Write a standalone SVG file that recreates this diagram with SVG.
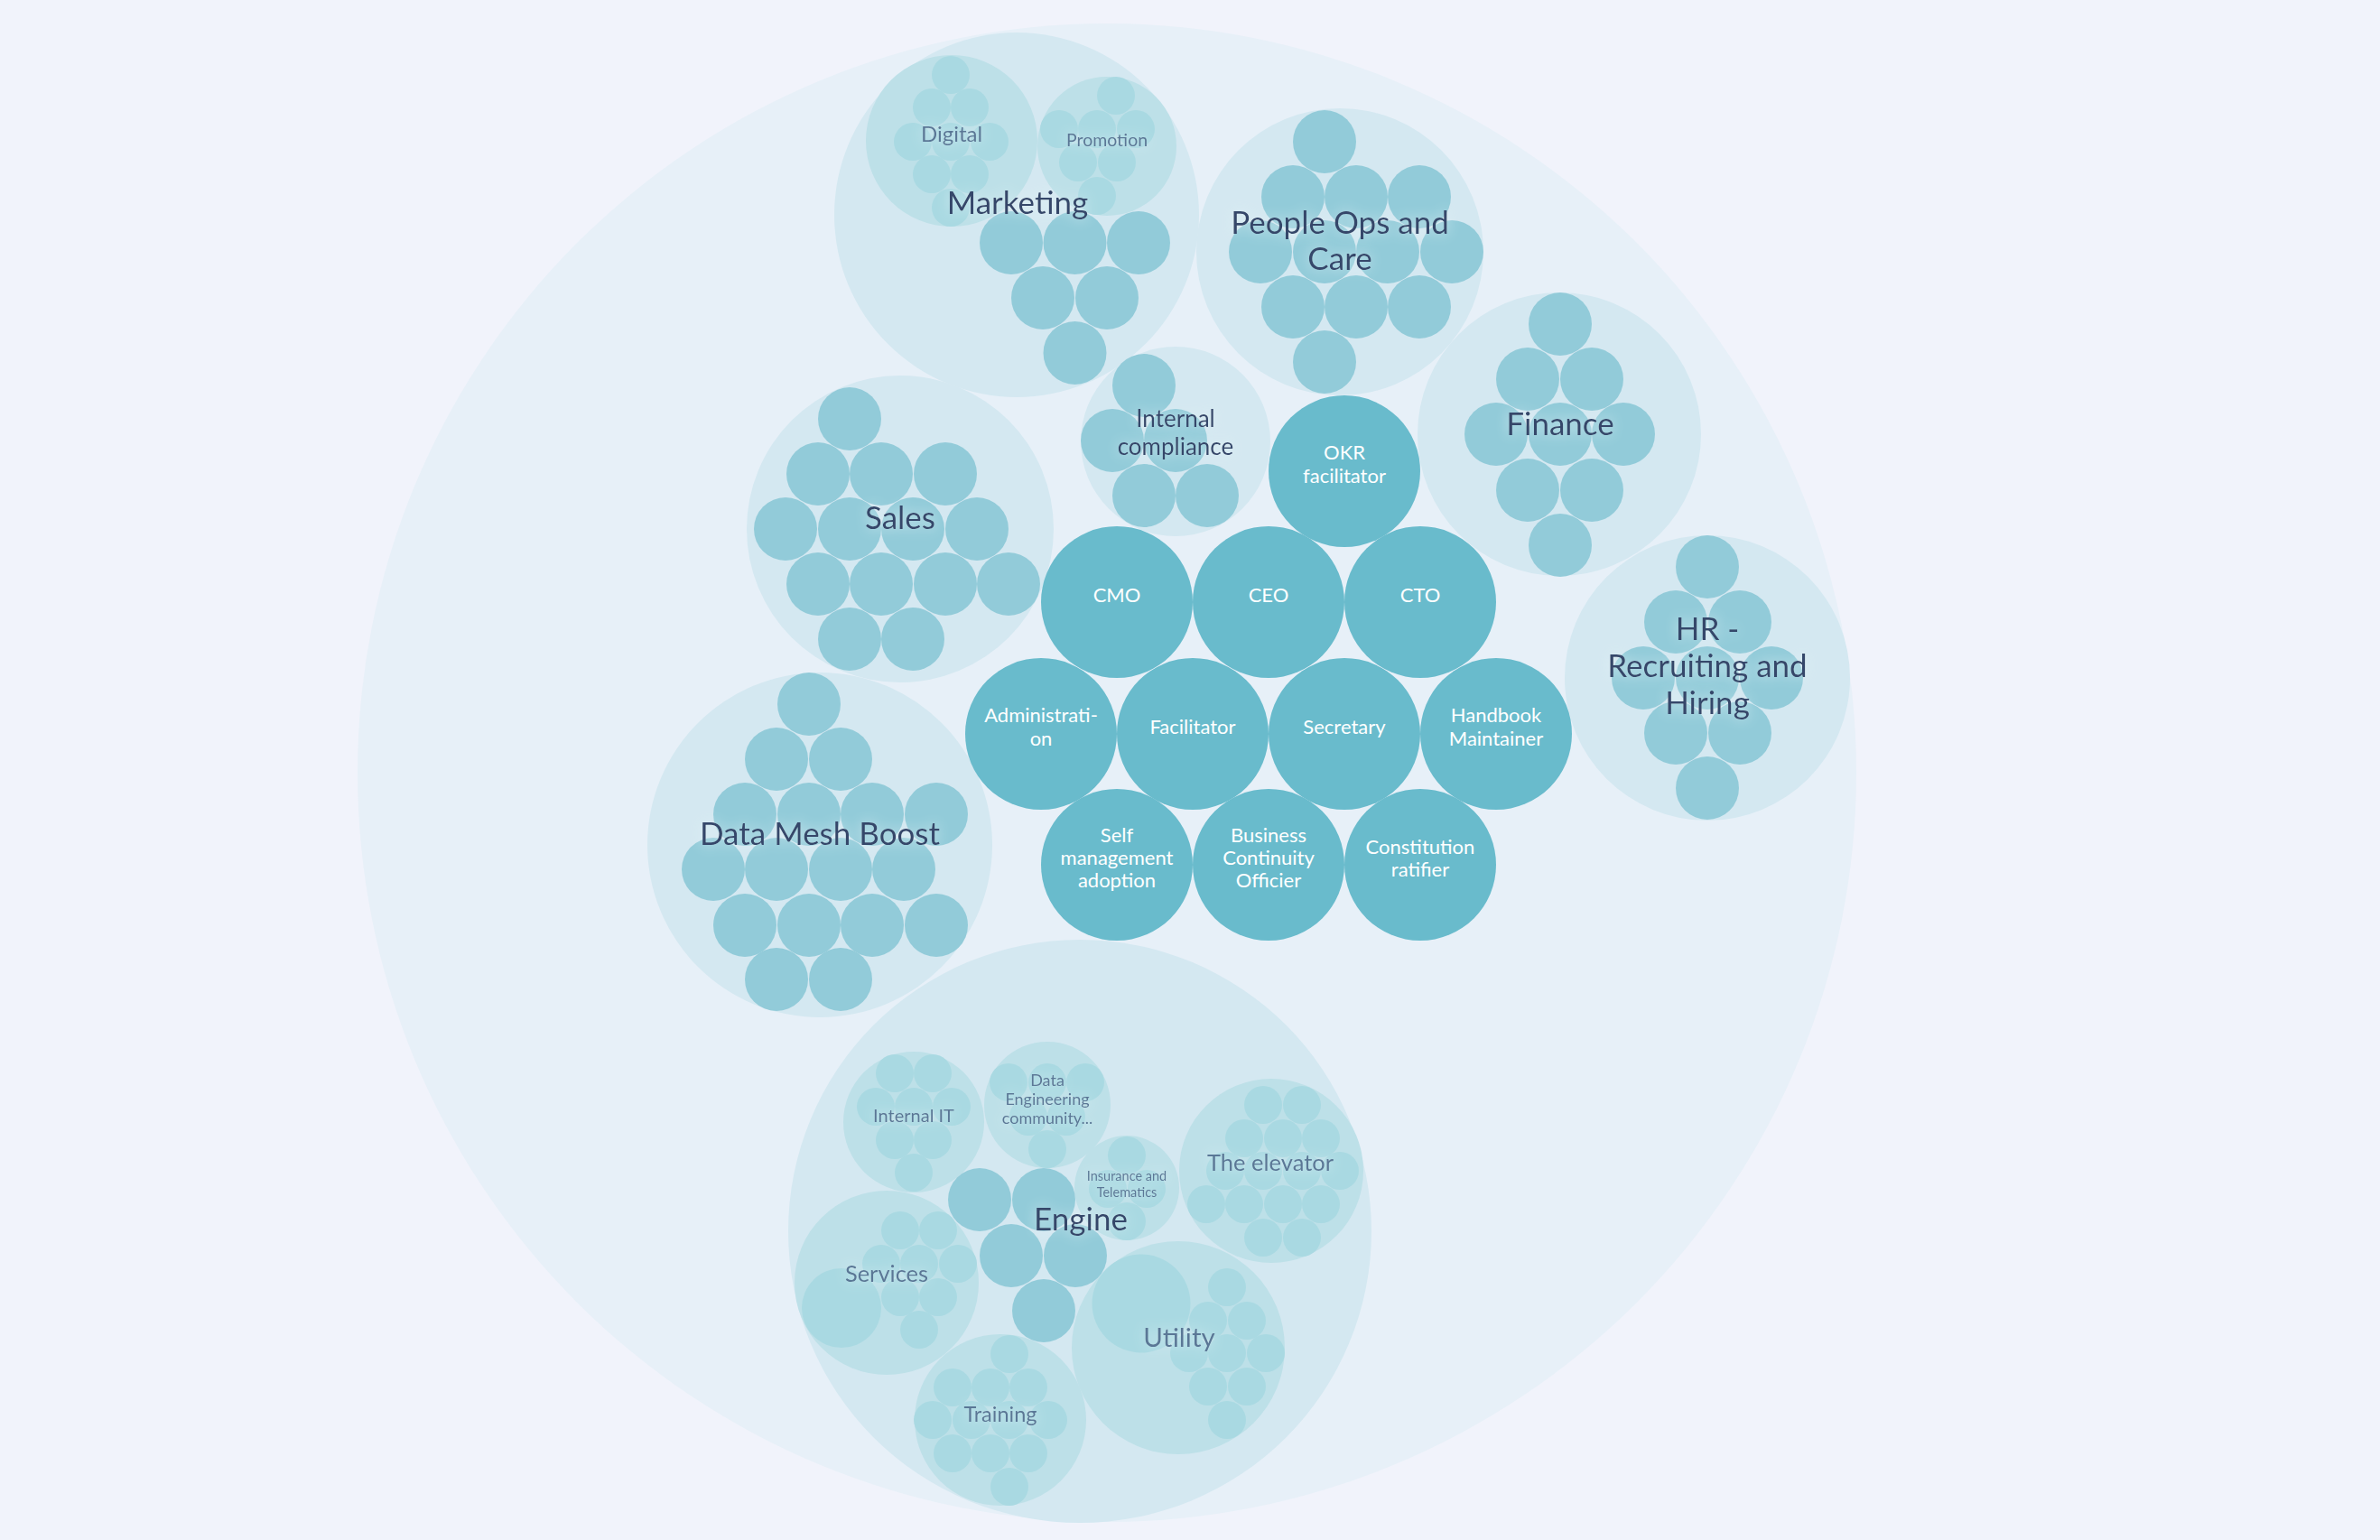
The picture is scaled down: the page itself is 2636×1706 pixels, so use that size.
<svg xmlns="http://www.w3.org/2000/svg" width="2636" height="1706" viewBox="0 0 2636 1706">
<defs>
<style>
.bg{fill:#f1f3fb}
.root{fill:#e7f0f8}
.l2{fill:#d4e8f1}
.lf{fill:#92cbd9}
.role{fill:#69bbcc}
.l3{fill:#bde0e8}
.lf3{fill:#a9d9e2}
text{font-family:Lato,"Liberation Sans",sans-serif;text-anchor:middle}
.t2{font-size:35px;fill:#34466b}
.t2s{font-size:26px;fill:#34466b}
.t3{fill:#5a7796}
.tr{font-size:22px;fill:#ffffff}
</style>
<filter id="halo" x="-30%" y="-60%" width="160%" height="220%">
<feGaussianBlur in="SourceAlpha" stdDeviation="7" result="b"/>
<feFlood flood-color="#e3f2f6" flood-opacity="0.85"/>
<feComposite in2="b" operator="in" result="g"/>
<feMerge><feMergeNode in="g"/><feMergeNode in="SourceGraphic"/></feMerge>
</filter>
</defs>
<rect class="bg" x="0" y="0" width="2636" height="1706"/>
<g id="root">
<circle class="root" cx="1226" cy="856" r="830"/>

<g id="marketing">
<circle class="l2" cx="1126" cy="238" r="202"/>
<g id="digital">
<circle class="l3" cx="1054" cy="156" r="95"/>
<circle class="lf3" cx="1053" cy="83" r="21"/>
<circle class="lf3" cx="1032" cy="119" r="21"/><circle class="lf3" cx="1074" cy="119" r="21"/>
<circle class="lf3" cx="1011" cy="157" r="21"/><circle class="lf3" cx="1053" cy="157" r="21"/><circle class="lf3" cx="1096" cy="157" r="21"/>
<circle class="lf3" cx="1032" cy="193" r="21"/><circle class="lf3" cx="1074" cy="193" r="21"/>
<circle class="lf3" cx="1053" cy="230" r="21"/>
<text class="t3" filter="url(#halo)" x="1054" y="157" font-size="24">Digital</text>
</g>
<g id="promotion">
<circle class="l3" cx="1226" cy="162" r="77"/>
<circle class="lf3" cx="1236" cy="106" r="21"/>
<circle class="lf3" cx="1173" cy="143" r="21"/><circle class="lf3" cx="1215" cy="143" r="21"/><circle class="lf3" cx="1258" cy="143" r="21"/>
<circle class="lf3" cx="1194" cy="180" r="21"/><circle class="lf3" cx="1237" cy="180" r="21"/>
<circle class="lf3" cx="1215" cy="217" r="21"/>
<text class="t3" filter="url(#halo)" x="1226" y="162" font-size="19.5">Promotion</text>
</g>
<circle class="lf" cx="1120" cy="269" r="35"/><circle class="lf" cx="1190.5" cy="269" r="35"/><circle class="lf" cx="1261" cy="269" r="35"/>
<circle class="lf" cx="1155" cy="330" r="35"/><circle class="lf" cx="1226" cy="330" r="35"/>
<circle class="lf" cx="1190.5" cy="391" r="35"/>
<text class="t2" filter="url(#halo)" x="1127" y="237">Marketing</text>
</g>

<g id="people-ops">
<circle class="l2" cx="1484" cy="279" r="159"/>
<circle class="lf" cx="1467" cy="157" r="35"/>
<circle class="lf" cx="1432" cy="218" r="35"/><circle class="lf" cx="1502" cy="218" r="35"/><circle class="lf" cx="1572" cy="218" r="35"/>
<circle class="lf" cx="1396" cy="279" r="35"/><circle class="lf" cx="1467" cy="279" r="35"/><circle class="lf" cx="1537" cy="279" r="35"/><circle class="lf" cx="1608" cy="279" r="35"/>
<circle class="lf" cx="1432" cy="340" r="35"/><circle class="lf" cx="1502" cy="340" r="35"/><circle class="lf" cx="1572" cy="340" r="35"/>
<circle class="lf" cx="1467" cy="401" r="35"/>
<text class="t2" filter="url(#halo)" x="1484" y="259">People Ops and</text>
<text class="t2" filter="url(#halo)" x="1484" y="299">Care</text>
</g>

<g id="finance">
<circle class="l2" cx="1727" cy="481" r="157"/>
<circle class="lf" cx="1728" cy="359" r="35"/>
<circle class="lf" cx="1692" cy="420" r="35"/><circle class="lf" cx="1763" cy="420" r="35"/>
<circle class="lf" cx="1657" cy="481" r="35"/><circle class="lf" cx="1728" cy="481" r="35"/><circle class="lf" cx="1798" cy="481" r="35"/>
<circle class="lf" cx="1692" cy="543" r="35"/><circle class="lf" cx="1763" cy="543" r="35"/>
<circle class="lf" cx="1728" cy="604" r="35"/>
<text class="t2" filter="url(#halo)" x="1728" y="482">Finance</text>
</g>

<g id="hr">
<circle class="l2" cx="1891" cy="751" r="158"/>
<circle class="lf" cx="1891" cy="628" r="35"/>
<circle class="lf" cx="1856" cy="689" r="35"/><circle class="lf" cx="1927" cy="689" r="35"/>
<circle class="lf" cx="1820" cy="751" r="35"/><circle class="lf" cx="1891" cy="751" r="35"/><circle class="lf" cx="1962" cy="751" r="35"/>
<circle class="lf" cx="1856" cy="812" r="35"/><circle class="lf" cx="1927" cy="812" r="35"/>
<circle class="lf" cx="1891" cy="873" r="35"/>
<text class="t2" filter="url(#halo)" x="1891" y="709">HR -</text>
<text class="t2" filter="url(#halo)" x="1891" y="750">Recruiting and</text>
<text class="t2" filter="url(#halo)" x="1891" y="791">Hiring</text>
</g>

<g id="sales">
<circle class="l2" cx="997" cy="586" r="170"/>
<circle class="lf" cx="941" cy="464" r="35"/>
<circle class="lf" cx="906" cy="525" r="35"/><circle class="lf" cx="976" cy="525" r="35"/><circle class="lf" cx="1047" cy="525" r="35"/>
<circle class="lf" cx="870" cy="586" r="35"/><circle class="lf" cx="941" cy="586" r="35"/><circle class="lf" cx="1011" cy="586" r="35"/><circle class="lf" cx="1082" cy="586" r="35"/>
<circle class="lf" cx="906" cy="647" r="35"/><circle class="lf" cx="976" cy="647" r="35"/><circle class="lf" cx="1047" cy="647" r="35"/><circle class="lf" cx="1117" cy="647" r="35"/>
<circle class="lf" cx="941" cy="708" r="35"/><circle class="lf" cx="1011" cy="708" r="35"/>
<text class="t2" filter="url(#halo)" x="997" y="586">Sales</text>
</g>

<g id="data-mesh-boost">
<circle class="l2" cx="908" cy="936" r="191"/>
<circle class="lf" cx="896" cy="780" r="35"/>
<circle class="lf" cx="860" cy="841" r="35"/><circle class="lf" cx="931" cy="841" r="35"/>
<circle class="lf" cx="825" cy="902" r="35"/><circle class="lf" cx="896" cy="902" r="35"/><circle class="lf" cx="966" cy="902" r="35"/><circle class="lf" cx="1037" cy="902" r="35"/>
<circle class="lf" cx="790" cy="963" r="35"/><circle class="lf" cx="860" cy="963" r="35"/><circle class="lf" cx="931" cy="963" r="35"/><circle class="lf" cx="1001" cy="963" r="35"/>
<circle class="lf" cx="825" cy="1025" r="35"/><circle class="lf" cx="896" cy="1025" r="35"/><circle class="lf" cx="966" cy="1025" r="35"/><circle class="lf" cx="1037" cy="1025" r="35"/>
<circle class="lf" cx="860" cy="1085" r="35"/><circle class="lf" cx="931" cy="1085" r="35"/>
<text class="t2" filter="url(#halo)" x="908" y="936">Data Mesh Boost</text>
</g>

<g id="internal-compliance">
<circle class="l2" cx="1302" cy="489" r="105"/>
<circle class="lf" cx="1267" cy="427" r="35"/>
<circle class="lf" cx="1232" cy="488" r="35"/><circle class="lf" cx="1302" cy="488" r="35"/>
<circle class="lf" cx="1267" cy="549" r="35"/><circle class="lf" cx="1337" cy="549" r="35"/>
<text class="t2s" filter="url(#halo)" x="1302" y="473">Internal</text>
<text class="t2s" filter="url(#halo)" x="1302" y="504">compliance</text>
</g>

<g id="okr-facilitator"><circle class="role" cx="1489" cy="522" r="84"/><text class="tr" x="1489" y="509">OKR</text><text class="tr" x="1489" y="535">facilitator</text></g>
<g id="cmo"><circle class="role" cx="1237" cy="667" r="84"/><text class="tr" x="1237" y="667">CMO</text></g>
<g id="ceo"><circle class="role" cx="1405" cy="667" r="84"/><text class="tr" x="1405" y="667">CEO</text></g>
<g id="cto"><circle class="role" cx="1573" cy="667" r="84"/><text class="tr" x="1573" y="667">CTO</text></g>
<g id="administration"><circle class="role" cx="1153" cy="813" r="84"/><text class="tr" x="1153" y="800">Administrati-</text><text class="tr" x="1153" y="826">on</text></g>
<g id="facilitator"><circle class="role" cx="1321" cy="813" r="84"/><text class="tr" x="1321" y="813">Facilitator</text></g>
<g id="secretary"><circle class="role" cx="1489" cy="813" r="84"/><text class="tr" x="1489" y="813">Secretary</text></g>
<g id="handbook-maintainer"><circle class="role" cx="1657" cy="813" r="84"/><text class="tr" x="1657" y="800">Handbook</text><text class="tr" x="1657" y="826">Maintainer</text></g>
<g id="self-management"><circle class="role" cx="1237" cy="958" r="84"/><text class="tr" x="1237" y="933">Self</text><text class="tr" x="1237" y="958">management</text><text class="tr" x="1237" y="983">adoption</text></g>
<g id="business-continuity"><circle class="role" cx="1405" cy="958" r="84"/><text class="tr" x="1405" y="933">Business</text><text class="tr" x="1405" y="958">Continuity</text><text class="tr" x="1405" y="983">Officier</text></g>
<g id="constitution-ratifier"><circle class="role" cx="1573" cy="958" r="84"/><text class="tr" x="1573" y="946">Constitution</text><text class="tr" x="1573" y="971">ratifier</text></g>

<g id="engine">
<circle class="l2" cx="1196" cy="1364" r="323"/>
<g id="internal-it">
<circle class="l3" cx="1012" cy="1243" r="78"/>
<circle class="lf3" cx="991" cy="1189" r="21"/><circle class="lf3" cx="1033" cy="1189" r="21"/>
<circle class="lf3" cx="970" cy="1226" r="21"/><circle class="lf3" cx="1012" cy="1226" r="21"/><circle class="lf3" cx="1054" cy="1226" r="21"/>
<circle class="lf3" cx="991" cy="1263" r="21"/><circle class="lf3" cx="1033" cy="1263" r="21"/>
<circle class="lf3" cx="1012" cy="1299" r="21"/>
<text class="t3" filter="url(#halo)" x="1012" y="1243" font-size="20">Internal IT</text>
</g>
<g id="data-engineering">
<circle class="l3" cx="1160" cy="1224" r="70"/>
<circle class="lf3" cx="1117" cy="1199" r="21"/><circle class="lf3" cx="1160" cy="1199" r="21"/><circle class="lf3" cx="1202" cy="1199" r="21"/>
<circle class="lf3" cx="1139" cy="1237" r="21"/><circle class="lf3" cx="1181" cy="1237" r="21"/>
<circle class="lf3" cx="1160" cy="1273" r="21"/>
<text class="t3" filter="url(#halo)" x="1160" y="1203" font-size="18">Data</text>
<text class="t3" filter="url(#halo)" x="1160" y="1224" font-size="18">Engineering</text>
<text class="t3" filter="url(#halo)" x="1160" y="1245" font-size="18">community...</text>
</g>
<g id="insurance-telematics">
<circle class="l3" cx="1248" cy="1316" r="58"/>
<circle class="lf3" cx="1248" cy="1280" r="21"/>
<circle class="lf3" cx="1227" cy="1317" r="21"/><circle class="lf3" cx="1270" cy="1317" r="21"/>
<circle class="lf3" cx="1248" cy="1353" r="21"/>
<text class="t3" filter="url(#halo)" x="1248" y="1308" font-size="14.5">Insurance and</text>
<text class="t3" filter="url(#halo)" x="1248" y="1326" font-size="14.5">Telematics</text>
</g>
<g id="services">
<circle class="l3" cx="982" cy="1421" r="102"/>
<circle class="lf3" cx="932" cy="1449" r="44"/>
<circle class="lf3" cx="997" cy="1363" r="21"/><circle class="lf3" cx="1039" cy="1363" r="21"/>
<circle class="lf3" cx="976" cy="1400" r="21"/><circle class="lf3" cx="1018" cy="1400" r="21"/><circle class="lf3" cx="1061" cy="1400" r="21"/>
<circle class="lf3" cx="997" cy="1437" r="21"/><circle class="lf3" cx="1039" cy="1437" r="21"/>
<circle class="lf3" cx="1018" cy="1473" r="21"/>
<text class="t3" filter="url(#halo)" x="982" y="1420" font-size="25.5">Services</text>
</g>
<g id="the-elevator">
<circle class="l3" cx="1408" cy="1297" r="102"/>
<circle class="lf3" cx="1399" cy="1224" r="21"/><circle class="lf3" cx="1442" cy="1224" r="21"/>
<circle class="lf3" cx="1378" cy="1261" r="21"/><circle class="lf3" cx="1421" cy="1261" r="21"/><circle class="lf3" cx="1463" cy="1261" r="21"/>
<circle class="lf3" cx="1357" cy="1297" r="21"/><circle class="lf3" cx="1399" cy="1297" r="21"/><circle class="lf3" cx="1442" cy="1297" r="21"/><circle class="lf3" cx="1484" cy="1297" r="21"/>
<circle class="lf3" cx="1336" cy="1334" r="21"/><circle class="lf3" cx="1378" cy="1334" r="21"/><circle class="lf3" cx="1421" cy="1334" r="21"/><circle class="lf3" cx="1463" cy="1334" r="21"/>
<circle class="lf3" cx="1399" cy="1371" r="21"/><circle class="lf3" cx="1442" cy="1371" r="21"/>
<text class="t3" filter="url(#halo)" x="1407" y="1297" font-size="25.5">The elevator</text>
</g>
<g id="utility">
<circle class="l3" cx="1305" cy="1493" r="118"/>
<circle class="lf3" cx="1264" cy="1444" r="54.5"/>
<circle class="lf3" cx="1359" cy="1426" r="21"/>
<circle class="lf3" cx="1338" cy="1463" r="21"/><circle class="lf3" cx="1381" cy="1463" r="21"/>
<circle class="lf3" cx="1317" cy="1499" r="21"/><circle class="lf3" cx="1359" cy="1499" r="21"/><circle class="lf3" cx="1402" cy="1499" r="21"/>
<circle class="lf3" cx="1338" cy="1536" r="21"/><circle class="lf3" cx="1381" cy="1536" r="21"/>
<circle class="lf3" cx="1359" cy="1573" r="21"/>
<text class="t3" filter="url(#halo)" x="1306" y="1492" font-size="29.5">Utility</text>
</g>
<g id="training">
<circle class="l3" cx="1108" cy="1573" r="95"/>
<circle class="lf3" cx="1118" cy="1500" r="21"/>
<circle class="lf3" cx="1055" cy="1537" r="21"/><circle class="lf3" cx="1097" cy="1537" r="21"/><circle class="lf3" cx="1139" cy="1537" r="21"/>
<circle class="lf3" cx="1033" cy="1573" r="21"/><circle class="lf3" cx="1076" cy="1573" r="21"/><circle class="lf3" cx="1118" cy="1573" r="21"/><circle class="lf3" cx="1161" cy="1573" r="21"/>
<circle class="lf3" cx="1055" cy="1610" r="21"/><circle class="lf3" cx="1097" cy="1610" r="21"/><circle class="lf3" cx="1139" cy="1610" r="21"/>
<circle class="lf3" cx="1118" cy="1647" r="21"/>
<text class="t3" filter="url(#halo)" x="1108" y="1575" font-size="23.5">Training</text>
</g>
<circle class="lf" cx="1085" cy="1329" r="35"/><circle class="lf" cx="1156" cy="1329" r="35"/>
<circle class="lf" cx="1120" cy="1391" r="35"/><circle class="lf" cx="1191" cy="1391" r="35"/>
<circle class="lf" cx="1156" cy="1452" r="35"/>
<text class="t2" filter="url(#halo)" x="1197" y="1363">Engine</text>
</g>
</g>
<g id="connectors"/>
</svg>
